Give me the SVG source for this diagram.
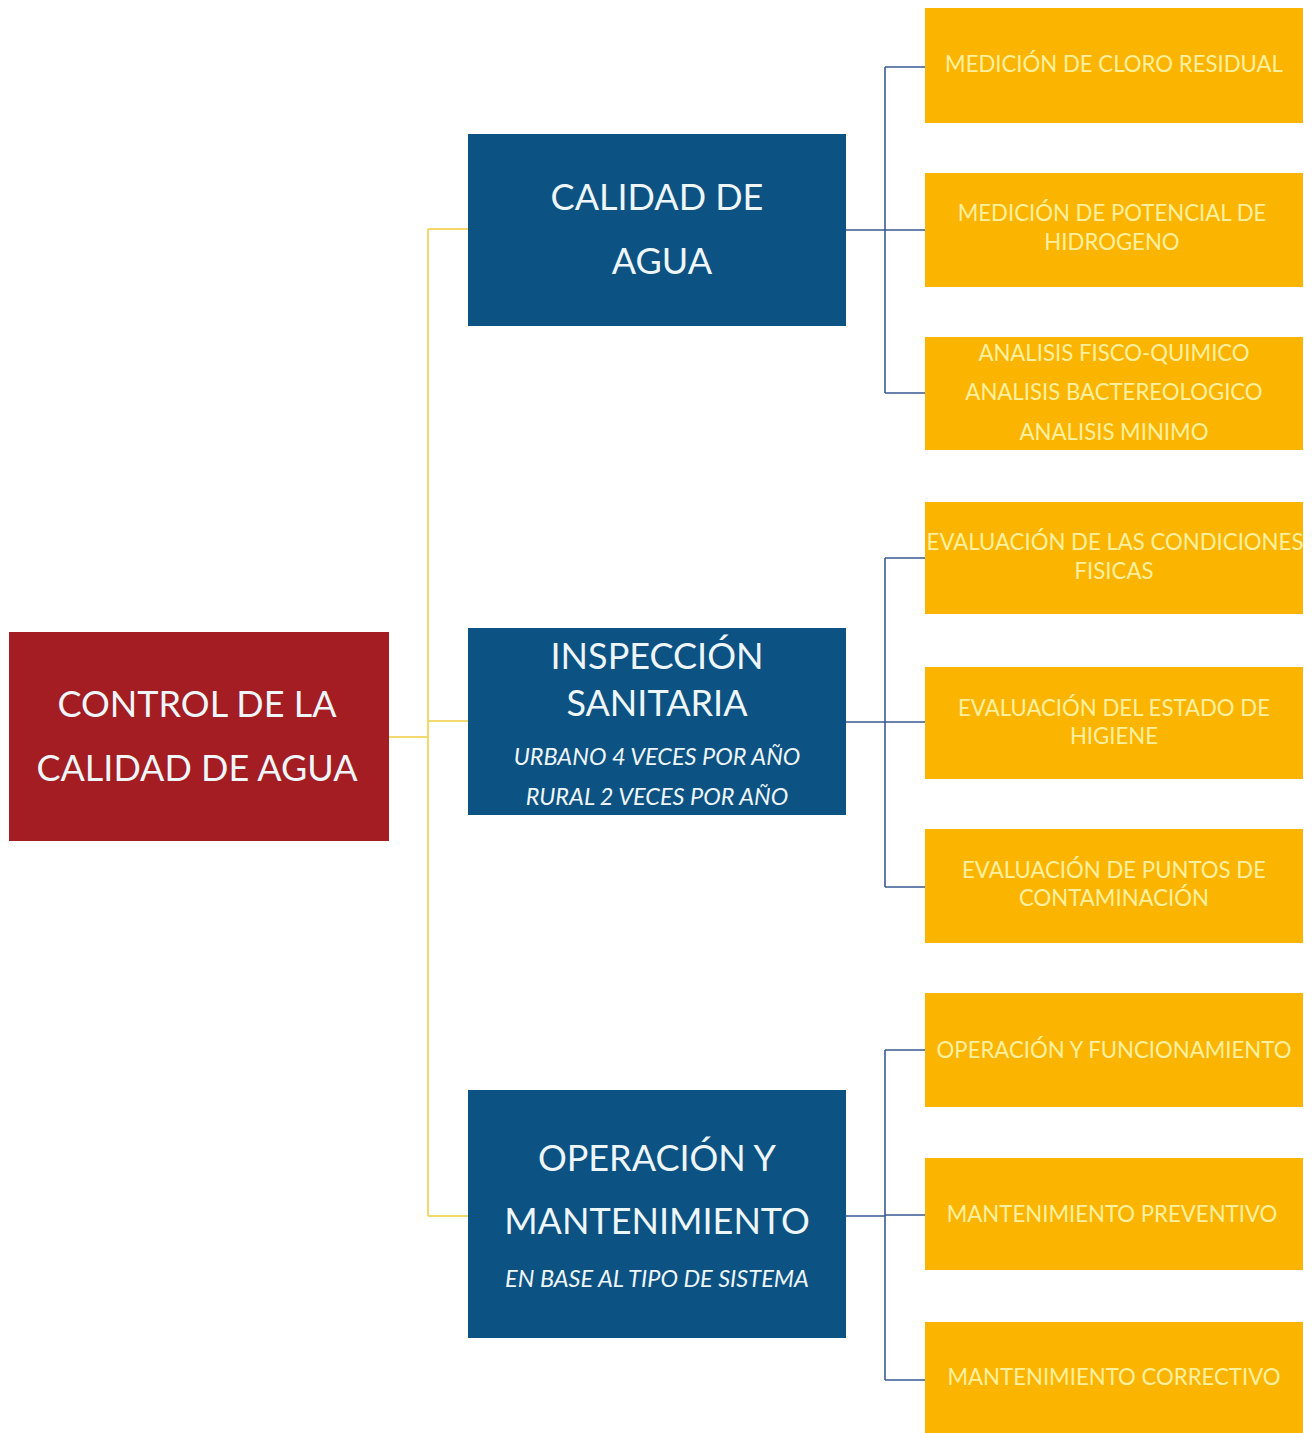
<svg xmlns="http://www.w3.org/2000/svg" width="1312" height="1433" viewBox="0 0 1312 1433">
<style>
.root{fill:#A31D23}
.mid{fill:#0C5282}
.leaf{fill:#FBB500}
.t{font-family:Lato,"Liberation Sans",sans-serif;text-anchor:middle;dominant-baseline:central}
.tw{fill:#EEF6FA}
.big{font-size:36px}
.it{font-size:23.5px;font-style:italic}
.lt{fill:#FFF0A0;font-size:22.2px}
.cy{stroke:#F2D86E;stroke-width:2;fill:none}
.cb{stroke:#3A5A94;stroke-width:1.6;fill:none}
</style>
<rect width="1312" height="1433" fill="#FFFFFF"/>
<g id="connectors">
<path class="cy" d="M389 737H428M428 229V1216M428 229H468M428 721H468M428 1216H468"/>
<path class="cb" d="M846 230H885M885 67V393M885 67H925M885 230H925M885 393H925"/>
<path class="cb" d="M846 722H885M885 558V887M885 558H925M885 722H925M885 887H925"/>
<path class="cb" d="M846 1216H885M885 1050V1380M885 1050H925M885 1215H925M885 1380H925"/>
</g>
<g id="root">
<rect class="root" x="9" y="632" width="380" height="209"/>
<text class="t tw big" x="197" y="703">CONTROL DE LA</text>
<text class="t tw big" x="197" y="767">CALIDAD DE AGUA</text>
</g>
<g id="calidad">
<rect class="mid" x="468" y="134" width="378" height="192"/>
<text class="t tw big" x="657" y="196">CALIDAD DE</text>
<text class="t tw big" x="662" y="260">AGUA</text>
</g>
<g id="inspeccion">
<rect class="mid" x="468" y="628" width="378" height="187"/>
<text class="t tw big" x="657" y="655">INSPECCIÓN</text>
<text class="t tw big" x="657" y="702">SANITARIA</text>
<text class="t tw it" x="657" y="756">URBANO 4 VECES POR AÑO</text>
<text class="t tw it" x="657" y="796">RURAL 2 VECES POR AÑO</text>
</g>
<g id="operacion">
<rect class="mid" x="468" y="1090" width="378" height="248"/>
<text class="t tw big" x="657" y="1157">OPERACIÓN Y</text>
<text class="t tw big" x="657" y="1220">MANTENIMIENTO</text>
<text class="t tw it" x="657" y="1278">EN BASE AL TIPO DE SISTEMA</text>
</g>
<g id="leaf1">
<rect class="leaf" x="925" y="8" width="378" height="115"/>
<text class="t lt" x="1114" y="63">MEDICIÓN DE CLORO RESIDUAL</text>
</g>
<g id="leaf2">
<rect class="leaf" x="925" y="173" width="378" height="114"/>
<text class="t lt" x="1112" y="212">MEDICIÓN DE POTENCIAL DE</text>
<text class="t lt" x="1112" y="241">HIDROGENO</text>
</g>
<g id="leaf3">
<rect class="leaf" x="925" y="337" width="378" height="113"/>
<text class="t lt" x="1114" y="352">ANALISIS FISCO-QUIMICO</text>
<text class="t lt" x="1114" y="391">ANALISIS BACTEREOLOGICO</text>
<text class="t lt" x="1114" y="431">ANALISIS MINIMO</text>
</g>
<g id="leaf4">
<rect class="leaf" x="925" y="502" width="378" height="112"/>
<text class="t lt" x="1115" y="541">EVALUACIÓN DE LAS CONDICIONES</text>
<text class="t lt" x="1114" y="570">FISICAS</text>
</g>
<g id="leaf5">
<rect class="leaf" x="925" y="667" width="378" height="112"/>
<text class="t lt" x="1114" y="707">EVALUACIÓN DEL ESTADO DE</text>
<text class="t lt" x="1114" y="735">HIGIENE</text>
</g>
<g id="leaf6">
<rect class="leaf" x="925" y="829" width="378" height="114"/>
<text class="t lt" x="1114" y="869">EVALUACIÓN DE PUNTOS DE</text>
<text class="t lt" x="1114" y="897">CONTAMINACIÓN</text>
</g>
<g id="leaf7">
<rect class="leaf" x="925" y="993" width="378" height="114"/>
<text class="t lt" x="1114" y="1049">OPERACIÓN Y FUNCIONAMIENTO</text>
</g>
<g id="leaf8">
<rect class="leaf" x="925" y="1158" width="378" height="112"/>
<text class="t lt" x="1112" y="1213">MANTENIMIENTO PREVENTIVO</text>
</g>
<g id="leaf9">
<rect class="leaf" x="925" y="1322" width="378" height="111"/>
<text class="t lt" x="1114" y="1376">MANTENIMIENTO CORRECTIVO</text>
</g>
</svg>
